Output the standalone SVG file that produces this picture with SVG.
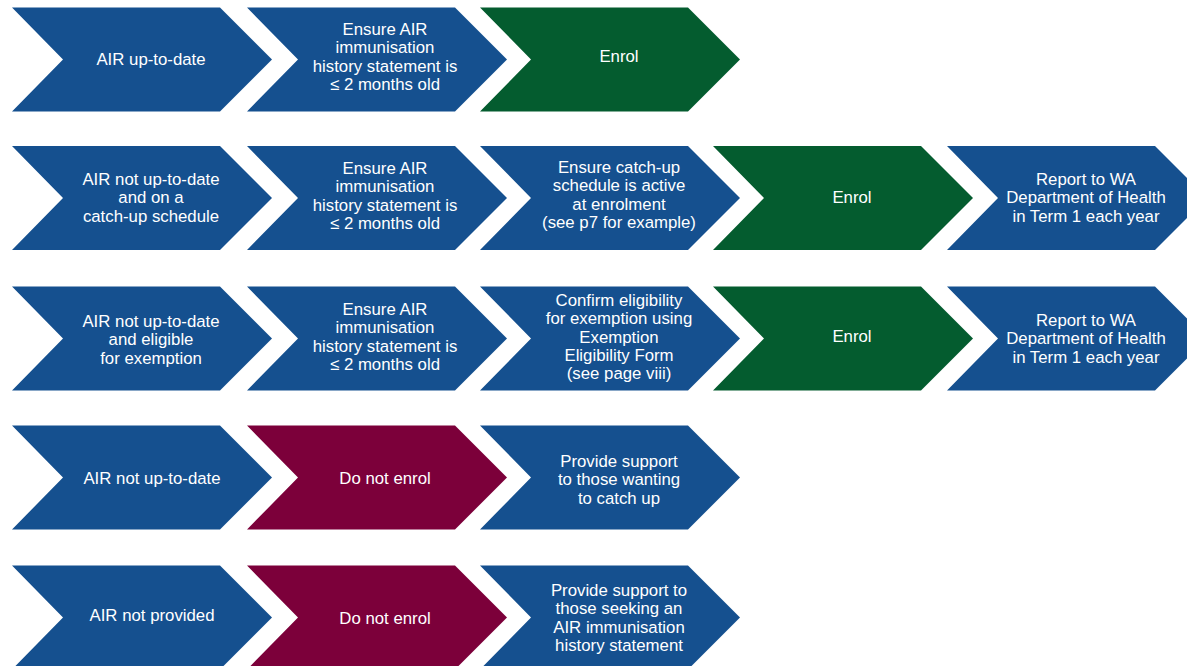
<svg xmlns="http://www.w3.org/2000/svg" width="1187" height="666" viewBox="0 0 1187 666">
<defs>
<style>
.b{fill:#15508f}
.g{fill:#045c2f}
.m{fill:#7c003a}
text{font-family:"Liberation Sans",Arial,sans-serif;font-size:16.8px;fill:#ffffff;text-anchor:middle}
</style>
<polygon id="chev" points="0,0 208,0 260,52 208,104 0,104 51,52"/>
</defs>
<rect width="1187" height="666" fill="#ffffff"/>
<g id="row1">
<g id="r1c1"><use href="#chev" class="b" x="12" y="7.5"/><text x="151" y="65">AIR up-to-date</text></g>
<g id="r1c2"><use href="#chev" class="b" x="247" y="7.5"/><text x="385" y="35">Ensure AIR</text><text x="385" y="53.3">immunisation</text><text x="385" y="71.6">history statement is</text><text x="385" y="89.9">≤ 2 months old</text></g>
<g id="r1c3"><use href="#chev" class="g" x="480" y="7.5"/><text x="619" y="62">Enrol</text></g>
</g>
<g id="row2">
<g id="r2c1"><use href="#chev" class="b" x="12" y="146"/><text x="151" y="185">AIR not up-to-date</text><text x="151" y="203.3">and on a</text><text x="151" y="221.6">catch-up schedule</text></g>
<g id="r2c2"><use href="#chev" class="b" x="247" y="146"/><text x="385" y="174">Ensure AIR</text><text x="385" y="192.3">immunisation</text><text x="385" y="210.6">history statement is</text><text x="385" y="228.9">≤ 2 months old</text></g>
<g id="r2c3"><use href="#chev" class="b" x="480" y="146"/><text x="619" y="173">Ensure catch-up</text><text x="619" y="191.3">schedule is active</text><text x="619" y="209.6">at enrolment</text><text x="619" y="227.9">(see p7 for example)</text></g>
<g id="r2c4"><use href="#chev" class="g" x="713" y="146"/><text x="852" y="203">Enrol</text></g>
<g id="r2c5"><use href="#chev" class="b" x="947" y="146"/><text x="1086" y="185">Report to WA</text><text x="1086" y="203.3">Department of Health</text><text x="1086" y="221.6">in Term 1 each year</text></g>
</g>
<g id="row3">
<g id="r3c1"><use href="#chev" class="b" x="12" y="286.5"/><text x="151" y="327">AIR not up-to-date</text><text x="151" y="345.3">and eligible</text><text x="151" y="363.6">for exemption</text></g>
<g id="r3c2"><use href="#chev" class="b" x="247" y="286.5"/><text x="385" y="315">Ensure AIR</text><text x="385" y="333.3">immunisation</text><text x="385" y="351.6">history statement is</text><text x="385" y="369.9">≤ 2 months old</text></g>
<g id="r3c3"><use href="#chev" class="b" x="480" y="286.5"/><text x="619" y="306">Confirm eligibility</text><text x="619" y="324.3">for exemption using</text><text x="619" y="342.6">Exemption</text><text x="619" y="360.9">Eligibility Form</text><text x="619" y="379.2">(see page viii)</text></g>
<g id="r3c4"><use href="#chev" class="g" x="713" y="286.5"/><text x="852" y="342">Enrol</text></g>
<g id="r3c5"><use href="#chev" class="b" x="947" y="286.5"/><text x="1086" y="326">Report to WA</text><text x="1086" y="344.3">Department of Health</text><text x="1086" y="362.6">in Term 1 each year</text></g>
</g>
<g id="row4">
<g id="r4c1"><use href="#chev" class="b" x="12" y="425.5"/><text x="152" y="484">AIR not up-to-date</text></g>
<g id="r4c2"><use href="#chev" class="m" x="247" y="425.5"/><text x="385" y="484">Do not enrol</text></g>
<g id="r4c3"><use href="#chev" class="b" x="480" y="425.5"/><text x="619" y="467">Provide support</text><text x="619" y="485.3">to those wanting</text><text x="619" y="503.6">to catch up</text></g>
</g>
<g id="row5">
<g id="r5c1"><use href="#chev" class="b" x="12" y="565.5"/><text x="152" y="621">AIR not provided</text></g>
<g id="r5c2"><use href="#chev" class="m" x="247" y="565.5"/><text x="385" y="624">Do not enrol</text></g>
<g id="r5c3"><use href="#chev" class="b" x="480" y="565.5"/><text x="619" y="596">Provide support to</text><text x="619" y="614.3">those seeking an</text><text x="619" y="632.6">AIR immunisation</text><text x="619" y="650.9">history statement</text></g>
</g>
<g id="connectors"/>
</svg>
